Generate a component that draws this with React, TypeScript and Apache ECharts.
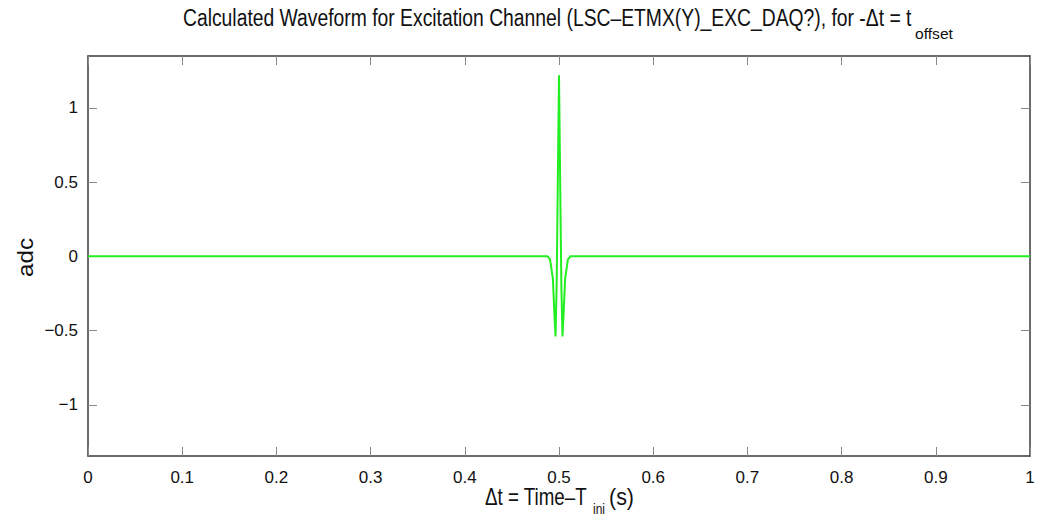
import React, { useEffect, useRef } from "react";
import * as echarts from "echarts";

const timeValues = [0, 0.1, 0.2, 0.3, 0.4, 0.488, 0.4905, 0.4935, 0.4952, 0.4963, 0.4975, 0.5, 0.5025, 0.5037, 0.5048, 0.5065, 0.5095, 0.512, 0.6, 0.7, 0.8, 0.9, 1];
const adcValues = [0, 0, 0, 0, 0, 0, -0.02, -0.15, -0.4, -0.54, -0.2, 1.22, -0.2, -0.54, -0.4, -0.15, -0.02, 0, 0, 0, 0, 0, 0];
const xTicks = [0, 0.1, 0.2, 0.3, 0.4, 0.5, 0.6, 0.7, 0.8, 0.9, 1];
const yTicks = [-1, -0.5, 0, 0.5, 1];

const titleMain = "Calculated Waveform for Excitation Channel (LSC\u2013ETMX(Y)_EXC_DAQ?), for -\u0394t = t";
const titleSub = "offset";
const xNameMain = "\u0394t = Time\u2013T";
const xNameSub = "ini";
const xNameUnit = "(s)";
const yName = "adc";

const FONT = "Liberation Sans, Arial, sans-serif";

function measure(text: string, size: number): number {
  const c = document.createElement("canvas").getContext("2d");
  if (!c) return text.length * size * 0.5;
  c.font = `${size}px "Liberation Sans", Arial, sans-serif`;
  return c.measureText(text).width;
}

// fitted text: left edge, right edge, baseline, font size
function fitText(text: string, left: number, right: number, baseline: number, size: number) {
  const w = measure(text, size);
  return {
    type: "text",
    x: left,
    y: baseline - 0.35 * size,
    scaleX: (right - left) / w,
    silent: true,
    style: {
      text,
      fontFamily: FONT,
      fontSize: size,
      fill: "#111",
      align: "left",
      verticalAlign: "middle",
    },
  };
}

export default function App() {
  const ref = useRef<HTMLDivElement>(null);
  useEffect(() => {
    if (!ref.current) return;
    const chart = echarts.init(ref.current, null, { renderer: "svg" });
    const data = timeValues.map((t, i) => [t, adcValues[i]]);
    const frame = "#3a3a3a";
    const tickColor = "#888";
    const fmt = (v: number) => (v < 0 ? "\u2212" + String(-v) : String(v));
    const xBase = {
      type: "value",
      min: 0,
      max: 1,
      interval: 0.1,
      splitLine: { show: false },
      axisLine: { show: true, onZero: false, lineStyle: { color: frame, width: 1.5 } },
      axisTick: { show: true, inside: true, length: 9, customValues: xTicks, lineStyle: { color: tickColor, width: 1 } },
    };
    const yBase = {
      type: "value",
      min: -1.345,
      max: 1.35,
      splitLine: { show: false },
      axisLine: { show: true, onZero: false, lineStyle: { color: frame, width: 1.5 } },
      axisTick: { show: true, inside: true, length: 9, customValues: yTicks, lineStyle: { color: tickColor, width: 1 } },
    };
    const yNameSize = 22;
    const yNameW = measure(yName, yNameSize);
    chart.setOption({
      animation: false,
      backgroundColor: "#fff",
      grid: { left: 88, right: 8, top: 56, bottom: 60, containLabel: false, outerBoundsMode: "none" },
      xAxis: [
        {
          ...xBase,
          position: "bottom",
          axisLabel: { show: true, margin: 13, fontFamily: FONT, fontSize: 17, color: "#111", formatter: fmt },
        },
        { ...xBase, position: "top", axisLabel: { show: false } },
      ],
      yAxis: [
        {
          ...yBase,
          position: "left",
          axisLabel: { show: true, margin: 10, fontFamily: FONT, fontSize: 17, color: "#111", customValues: yTicks, formatter: fmt },
        },
        { ...yBase, position: "right", axisLabel: { show: false } },
      ],
      graphic: [
        fitText(titleMain, 183, 912, 27, 23.5),
        fitText(titleSub, 915, 953, 39, 15),
        fitText(xNameMain, 485, 587, 505.5, 23.5),
        fitText(xNameSub, 593, 605, 514, 14),
        fitText(xNameUnit, 609, 634, 505.5, 23.5),
        {
          type: "text",
          x: 25.5,
          y: 257.5,
          rotation: Math.PI / 2,
          scaleX: 39 / yNameW,
          silent: true,
          style: {
            text: yName,
            fontFamily: FONT,
            fontSize: yNameSize,
            fill: "#111",
            align: "center",
            verticalAlign: "middle",
          },
        },
      ],
      series: [
        {
          type: "line",
          data,
          xAxisIndex: 0,
          yAxisIndex: 0,
          showSymbol: false,
          symbol: "none",
          lineStyle: { color: "#22ee22", width: 2 },
        },
      ],
    });
    return () => chart.dispose();
  }, []);
  return <div ref={ref} style={{ position: "fixed", left: 0, top: 0, width: 1038, height: 516 }} />;
}
